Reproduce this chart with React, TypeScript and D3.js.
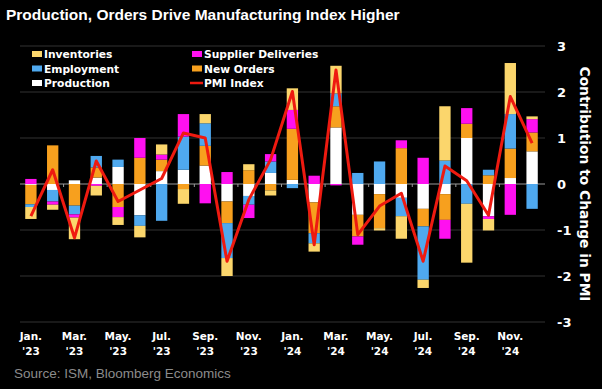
import React from "react";
import * as d3 from "d3";

// months Jan 2023 .. Dec 2024
const months = [
  "Jan 23", "Feb 23", "Mar 23", "Apr 23", "May 23", "Jun 23",
  "Jul 23", "Aug 23", "Sep 23", "Oct 23", "Nov 23", "Dec 23",
  "Jan 24", "Feb 24", "Mar 24", "Apr 24", "May 24", "Jun 24",
  "Jul 24", "Aug 24", "Sep 24", "Oct 24", "Nov 24", "Dec 24"
];

const production = [
  -0.02, -0.13, 0.08, 0.14, 0.37, -0.68, 0.28, 0.31, 0.4, -0.38, -0.26, 0.24,
  0.09, -0.4, 1.23, -0.67, -0.22, -0.3, -0.54, -0.22, 1.0, -0.7, 0.13, 0.71
];
const newOrders = [
  -0.42, 0.84, -0.47, 0.22, -0.5, 0.57, 0.25, -0.11, 0.43, -0.47, 0.3, -0.14,
  1.11, -0.67, 0.46, -0.47, -0.74, 0.78, -0.38, -0.56, 0.31, 0.19, 0.64, 0.41
];
const employment = [
  -0.06, -0.25, -0.19, 0.25, 0.16, -0.23, -0.8, 0.72, 0.49, -0.76, -0.19, 0.25,
  -0.09, -0.22, 0.28, 0.24, 0.49, -0.4, -1.16, 0.51, -0.43, 0.12, 0.75, -0.54
];
const supplierDeliveries = [
  0.11, -0.07, -0.07, -0.04, -0.22, 0.43, 0.11, 0.49, -0.42, 0.26, -0.29, 0.16,
  0.41, 0.18, -0.03, -0.18, 0.0, 0.17, 0.57, -0.41, 0.34, -0.06, -0.67, 0.29
];
const inventories = [
  -0.26, -0.11, -0.47, -0.21, -0.17, -0.25, 0.22, -0.32, 0.2, -0.39, 0.13, -0.11,
  0.47, -0.18, 0.6, 0.0, -0.05, -0.49, -0.18, 1.18, -1.28, -0.25, 1.11, 0.06
];
const pmiIndex = [
  -0.7, 0.31, -1.17, 0.5, -0.38, -0.13, 0.12, 1.11, 1.0, -1.68, -0.34, 0.53,
  2.01, -1.32, 2.48, -1.1, -0.48, -0.2, -1.68, 0.39, 0.07, -0.68, 1.9, 0.89
];

const tickLabels = [
  ["Jan.", "'23"], ["Mar.", "'23"], ["May.", "'23"], ["Jul.", "'23"],
  ["Sep.", "'23"], ["Nov.", "'23"], ["Jan.", "'24"], ["Mar.", "'24"],
  ["May.", "'24"], ["Jul.", "'24"], ["Sep.", "'24"], ["Nov.", "'24"]
];
const yTicks = [3, 2, 1, 0, -1, -2, -3];

// stacking order from the zero line outwards
const seriesKeys = ["production", "newOrders", "employment", "supplier", "inventories"];
const colors: Record<string, string> = {
  production: "#ffffff",
  newOrders: "#f7a01e",
  employment: "#4fa9ef",
  supplier: "#ff10f0",
  inventories: "#fbd66c"
};

const sizing = { width: 602, height: 389, left: 20, right: 543, top: 46, bottom: 322 };

const legendStyle = {
  fontFamily: "DejaVu Sans, sans-serif",
  fontSize: "10.7px",
  fontWeight: "bold",
  fill: "white"
};

function App() {
  const table = months.map((m, i) => ({
    month: m,
    production: production[i],
    newOrders: newOrders[i],
    employment: employment[i],
    supplier: supplierDeliveries[i],
    inventories: inventories[i]
  }));

  const x = d3
    .scaleBand()
    .domain(months)
    .range([sizing.left, sizing.right])
    .paddingInner(0.48)
    .paddingOuter(0.24);

  const y = d3.scaleLinear().domain([-3, 3]).range([sizing.bottom, sizing.top]);

  const stacked = d3
    .stack<any>()
    .keys(seriesKeys)
    .offset(d3.stackOffsetDiverging)(table);

  const line = d3
    .line<number>()
    .x((d, i) => (x(months[i]) as number) + x.bandwidth() / 2)
    .y((d) => y(d));

  const step = x.step();

  const bars = stacked.map((s) =>
    s.map((d, i) => (
      <rect
        key={`${s.key}${i}`}
        x={x(months[i])}
        y={y(Math.max(d[0], d[1]))}
        width={x.bandwidth()}
        height={Math.abs(y(d[0]) - y(d[1]))}
        fill={colors[s.key]}
      />
    ))
  );

  const legendItems = [
    { label: "Inventories", color: colors.inventories, col: 0, row: 0 },
    { label: "Employment", color: colors.employment, col: 0, row: 1 },
    { label: "Production", color: colors.production, col: 0, row: 2 },
    { label: "Supplier Deliveries", color: colors.supplier, col: 1, row: 0 },
    { label: "New Orders", color: colors.newOrders, col: 1, row: 1 }
  ];

  return (
    <div style={{ position: "absolute", left: 0, top: 0 }}>
      <svg width={sizing.width} height={sizing.height} style={{ display: "block", background: "#000" }}>
        <rect width={sizing.width} height={sizing.height} fill="#000" />
        <text
          x={6}
          y={20}
          style={{ fontFamily: "Liberation Sans, Arial, sans-serif", fontSize: "15.5px", fontWeight: "bold", fill: "white" }}
        >
          Production, Orders Drive Manufacturing Index Higher
        </text>

        {yTicks.map((t) => (
          <g key={`g${t}`}>
            <line
              x1={sizing.left}
              x2={sizing.right + 2}
              y1={y(t)}
              y2={y(t)}
              stroke={t === 0 ? "#9a9a9a" : "#333"}
              strokeWidth={1}
            />
            <text
              x={557}
              y={y(t) + 5}
              style={{ fontFamily: "DejaVu Sans, sans-serif", fontSize: "13px", fontWeight: "bold", fill: "white" }}
            >
              {t}
            </text>
          </g>
        ))}

        {/* legend */}
        {legendItems.map((l) => (
          <g key={l.label} transform={`translate(${l.col === 0 ? 32 : 192},${54 + l.row * 14.5})`}>
            <rect x={0} y={-3} width={10} height={6} fill={l.color} />
            <text x={12} y={4} style={legendStyle}>
              {l.label}
            </text>
          </g>
        ))}
        <g transform={`translate(190,${54 + 2 * 14.5})`}>
          <line x1={0} x2={13} y1={0} y2={0} stroke="#ee1a10" strokeWidth={2.5} />
          <text x={14} y={4} style={legendStyle}>
            PMI Index
          </text>
        </g>

        {bars}

        {/* zero line ticks every two months */}
        {tickLabels.map((t, k) =>
          k === 0 ? null : (
            <line
              key={`tk${k}`}
              x1={sizing.left + 2 * k * step}
              x2={sizing.left + 2 * k * step}
              y1={y(0)}
              y2={y(0) + 3}
              stroke="#9a9a9a"
            />
          )
        )}

        <path d={line(pmiIndex) || ""} fill="none" stroke="#ee1a10" strokeWidth={3} strokeLinejoin="round" />

        {tickLabels.map((t, k) => {
          const cx = (x(months[2 * k]) as number) + x.bandwidth() / 2;
          return (
            <text
              key={`xl${k}`}
              x={cx}
              y={340}
              textAnchor="middle"
              style={{ fontFamily: "DejaVu Sans, sans-serif", fontSize: "10.5px", fontWeight: "bold", fill: "white" }}
            >
              <tspan x={cx}>{t[0]}</tspan>
              <tspan x={cx} dy={15}>{t[1]}</tspan>
            </text>
          );
        })}

        <text
          transform={`translate(580,${y(0)}) rotate(90)`}
          textAnchor="middle"
          style={{ fontFamily: "DejaVu Sans, sans-serif", fontSize: "13.8px", fontWeight: "bold", fill: "white" }}
        >
          Contribution to Change in PMI
        </text>

        <text
          x={14}
          y={378}
          style={{ fontFamily: "Liberation Sans Narrow, Liberation Sans, sans-serif", fontSize: "13.5px", fill: "#8c8c8c" }}
        >
          Source: ISM, Bloomberg Economics
        </text>
      </svg>
    </div>
  );
}

export default App;
